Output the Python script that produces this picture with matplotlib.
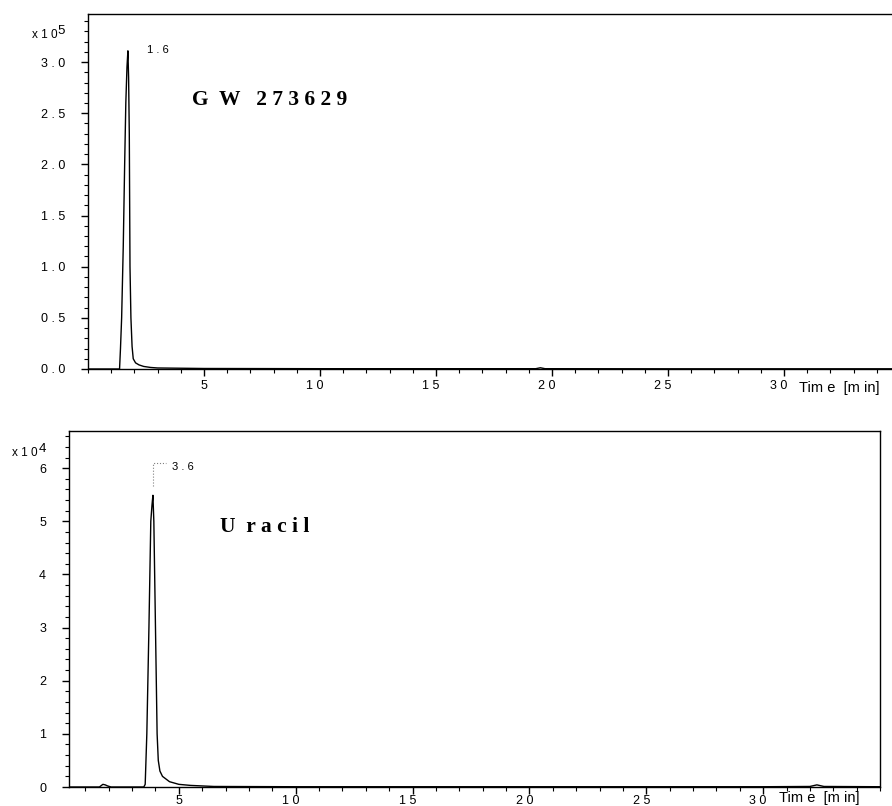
import matplotlib
matplotlib.use("Agg")
import matplotlib.pyplot as plt
import matplotlib.transforms as mtransforms
from matplotlib.ticker import MultipleLocator

# GW 273629 trace, intensity in units of 1e5
gw_time = [0, 1.36, 1.40, 1.45, 1.52, 1.58, 1.63, 1.68, 1.72, 1.75, 1.78, 1.81,
           1.85, 1.90, 1.95, 2.05, 2.2, 2.4, 2.7, 3.0, 5, 10, 19.3, 19.5, 19.7, 25, 34.7]
gw_signal = [0, 0, 0.2, 0.5, 1.2, 2.0, 2.6, 2.95, 3.11, 2.85, 2.3, 1.0,
             0.5, 0.22, 0.1, 0.06, 0.04, 0.025, 0.015, 0.01, 0.005, 0.003, 0.003, 0.012, 0.003, 0.002, 0.002]

# Uracil trace, intensity in units of 1e4
ur_time = [0.3, 1.6, 1.75, 1.85, 1.95, 2.1, 3.5, 3.56, 3.63, 3.72, 3.80, 3.85, 3.89,
           3.93, 4.00, 4.07, 4.12, 4.19, 4.3, 4.6, 5.0, 5.5, 6.5, 10, 20, 30, 32.0, 32.3, 32.6, 35]
ur_signal = [0, 0, 0.05, 0.04, 0.02, 0, 0, 0.05, 1.0, 3.0, 5.0, 5.3, 5.49,
             5.0, 3.0, 1.0, 0.5, 0.3, 0.2, 0.1, 0.05, 0.03, 0.01, 0.005, 0.005, 0.005, 0.01, 0.04, 0.01, 0.005]

x_ticks = [5, 10, 15, 20, 25, 30]
x_labels = ["5", "1 0", "1 5", "2 0", "2 5", "3 0"]
gw_yticks = [0, 0.5, 1.0, 1.5, 2.0, 2.5, 3.0]
gw_ylabels = ["0 . 0", "0 . 5", "1 . 0", "1 . 5", "2 . 0", "2 . 5", "3 . 0"]
ur_yticks = [0, 1, 2, 3, 4, 5, 6]
ur_ylabels = ["0", "1", "2", "3", "4", "5", "6"]

SANS = "Liberation Sans"
SERIF = "Liberation Serif"

W, H = 892, 806
fig = plt.figure(figsize=(W / 100, H / 100), dpi=100)


def px(x0, y0, x1, y1):
    # axes rectangle from pixel corners
    return [x0 / W, 1 - y1 / H, (x1 - x0) / W, (y1 - y0) / H]


def style_axes(ax, yticks, ylabels, yminor, xpad):
    ax.set_xticks(x_ticks)
    ax.set_xticklabels(x_labels, fontfamily=SANS, fontsize=9)
    ax.xaxis.set_minor_locator(MultipleLocator(1))
    ax.set_yticks(yticks)
    ax.set_yticklabels(ylabels, fontfamily=SANS, fontsize=9)
    ax.yaxis.set_minor_locator(MultipleLocator(yminor))
    ax.tick_params(axis="both", which="major", direction="out", length=5, width=1, color="black")
    ax.tick_params(axis="both", which="minor", direction="out", length=3, width=0.8, color="black")
    ax.tick_params(axis="y", pad=11.5)
    ax.tick_params(axis="x", pad=xpad)
    # two-digit labels sit a little left of their ticks
    shift = mtransforms.ScaledTranslation(-5 / 100, 0, fig.dpi_scale_trans)
    for lab in ax.get_xticklabels():
        if len(lab.get_text()) > 1:
            lab.set_transform(lab.get_transform() + shift)
    for sp in ax.spines.values():
        sp.set_linewidth(1.0)


# Top panel: GW 273629
ax1 = fig.add_axes(px(88, 14, 893, 369))
ax1.plot(gw_time, gw_signal, color="black", lw=1.0)
ax1.set_xlim(0, 34.7)
ax1.set_ylim(0, 3.47)
style_axes(ax1, gw_yticks, gw_ylabels, 0.1, 3)
ax1.spines["right"].set_visible(False)
ax1.text(3.02, 3.12, "1 . 6", fontfamily=SANS, fontsize=8, ha="center", va="center")
ax1.text(4.48, 2.63, "G  W   2 7 3 6 2 9", fontfamily=SERIF, fontweight="bold",
         fontsize=15.5, ha="left", va="center")
fig.text(799 / W, 1 - 388 / H, "Tim e  [m in]", fontfamily=SANS, fontsize=10.5,
         ha="left", va="center")
fig.text(32 / W, 1 - 35 / H, "x 1 0", fontfamily=SANS, fontsize=8.5, ha="left", va="center")
fig.text(57 / W, 1 - 31 / H, "5", fontfamily=SANS, fontsize=9.5, ha="left", va="center")

# Bottom panel: Uracil
ax2 = fig.add_axes(px(69, 431, 880, 787))
ax2.plot(ur_time, ur_signal, color="black", lw=1.0)
ax2.set_xlim(0.3, 35)
ax2.set_ylim(0, 6.7)
style_axes(ax2, ur_yticks, ur_ylabels, 0.2, 1)
# dotted bracket over the peak
ax2.plot([3.89, 3.89, 4.44], [5.66, 6.09, 6.09], color="gray", lw=0.8, ls=":")
ax2.text(5.17, 6.03, "3 . 6", fontfamily=SANS, fontsize=8, ha="center", va="center")
ax2.text(6.75, 4.9, "U  r a c i l", fontfamily=SERIF, fontweight="bold",
         fontsize=15.5, ha="left", va="center")
fig.text(779 / W, 1 - 798 / H, "Tim e  [m in]", fontfamily=SANS, fontsize=10.5,
         ha="left", va="center")
fig.text(12 / W, 1 - 453 / H, "x 1 0", fontfamily=SANS, fontsize=8.5, ha="left", va="center")
fig.text(39 / W, 1 - 449 / H, "4", fontfamily=SANS, fontsize=9.5, ha="left", va="center")

fig.savefig("out.png", dpi=100)
